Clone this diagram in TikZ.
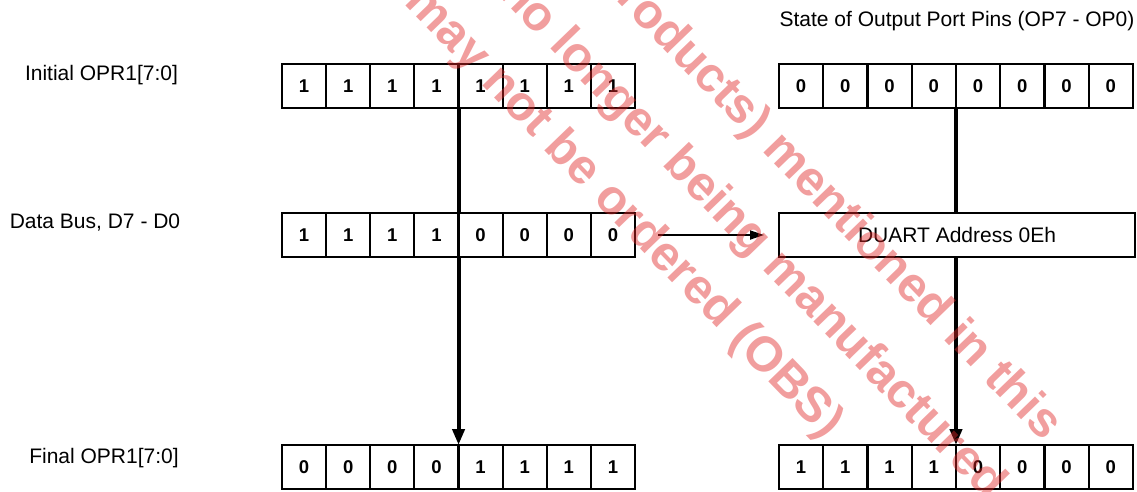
\documentclass[tikz,border=0pt]{standalone}
\usepackage{fontspec}
\setmainfont{Liberation Sans}
\usepackage{tikz}
\usetikzlibrary{arrows.meta,positioning}
\newcommand{\bitfont}{\fontsize{18.5}{20}\selectfont\bfseries}
\newcommand{\lblfont}{\fontsize{21}{24}\selectfont}
\newcommand{\wmfont}{\fontsize{49}{58}\selectfont\bfseries}
\definecolor{wmred}{RGB}{225,40,40}

\begin{document}
\begin{tikzpicture}[
    x=1pt, y=-1pt,
    >={Triangle[length=16pt, width=12pt]},
    bit/.style={draw, rectangle, line width=2pt, minimum width=44.2pt, minimum height=44pt,
                inner sep=0pt, outer sep=0pt, font=\bitfont},
    lbl/.style={anchor=base, inner sep=0pt, font=\lblfont},
    busline/.style={line width=4pt},
    wm/.style={text=wmred, text opacity=0.45, font=\wmfont, inner sep=0pt, rotate=-46}
]
  \useasboundingbox (0,0) rectangle (1137,491);

  % labels
  \node[lbl] (linit)  at (101.5,80)  {Initial OPR1[7:0]};
  \node[lbl] (lbus)   at (95,228)    {Data Bus, D7 - D0};
  \node[lbl] (lfinal) at (104,463)   {Final OPR1[7:0]};
  \node[lbl] (lstate) at (957,26.5)  {State of Output Port Pins (OP7 - OP0)};

  % registers
  \foreach \v [count=\i from 0] in {1,1,1,1,1,1,1,1}
    \node[bit] (ini\i) at ({282+44.125*(\i+0.5)},86) {\v};
  \foreach \v [count=\i from 0] in {1,1,1,1,0,0,0,0}
    \node[bit] (bus\i) at ({282+44.125*(\i+0.5)},235) {\v};
  \foreach \v [count=\i from 0] in {0,0,0,0,1,1,1,1}
    \node[bit] (fin\i) at ({282+44.125*(\i+0.5)},467) {\v};
  \foreach \v [count=\i from 0] in {0,0,0,0,0,0,0,0}
    \node[bit] (st\i) at ({779+44.25*(\i+0.5)},86) {\v};
  \foreach \v [count=\i from 0] in {1,1,1,1,0,0,0,0}
    \node[bit] (out\i) at ({779+44.25*(\i+0.5)},467) {\v};

  \node[draw, line width=2pt, minimum width=356pt, minimum height=44pt, inner sep=0pt,
        font=\lblfont] (duart) at (957,235) {DUART Address 0Eh};

  % edges
  \draw[busline] (ini3.south east) -- (bus3.north east);
  \draw[busline, ->] (bus3.south east) -- (fin3.north east);
  \draw[busline] (st3.south east) -- (st3.south east |- duart.north);
  \draw[busline, ->] (st3.south east |- duart.south) -- (out3.north east);
  \draw[line width=1.8pt, -{Triangle[length=14pt, width=9pt]},
        shorten <=23pt, shorten >=14pt] (bus7.east) -- (duart.west);

  % watermark
  \begin{scope}
    \clip (0,0) rectangle (1137,491);
    \node[wm] (wm1) at (828,201) {products) mentioned in this};
    \node[wm] (wm2) at (751,239) {no longer being manufactured};
    \node[wm] (wm3) at (623,213) {may not be ordered (OBS)};
  \end{scope}
\end{tikzpicture}
\end{document}
